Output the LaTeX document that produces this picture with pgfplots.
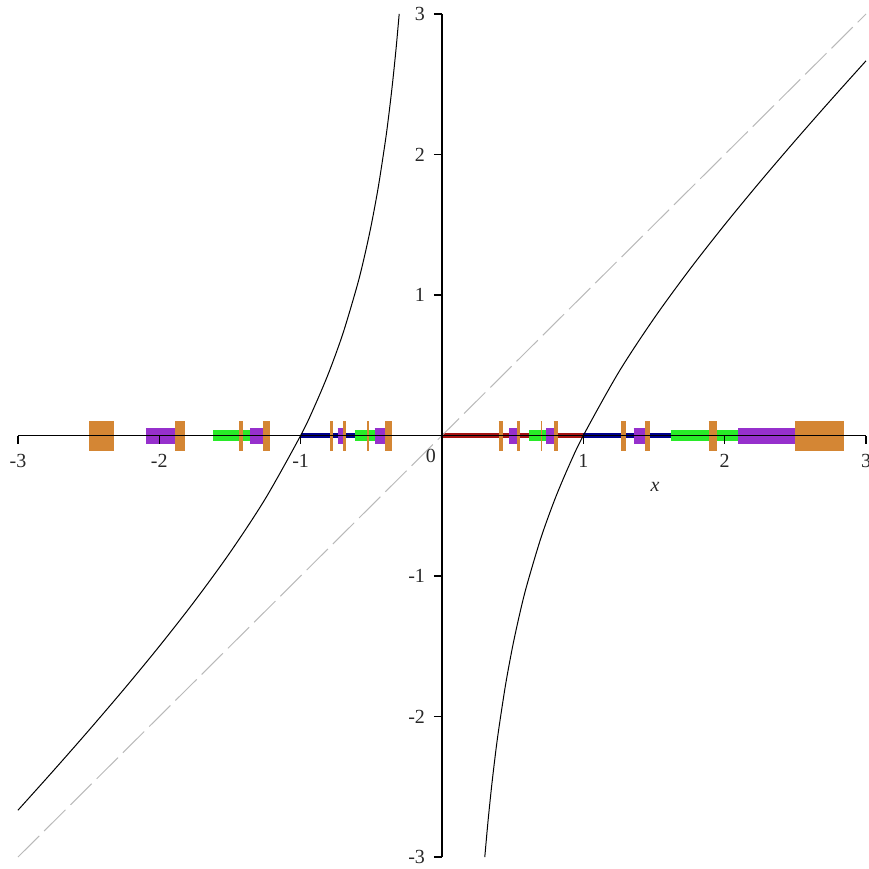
\documentclass[border=0pt]{standalone}
\usepackage{fontspec}
\setmainfont{Liberation Serif}
\usepackage{pgfplots}
\pgfplotsset{compat=1.18}

\definecolor{ordfour}{RGB}{212,134,52}
\definecolor{ordthree}{RGB}{150,48,204}
\definecolor{ordtwo}{RGB}{40,235,40}
\definecolor{ordone}{RGB}{0,0,140}
\definecolor{ordzero}{RGB}{165,20,20}
\definecolor{diaggray}{RGB}{185,185,185}
\definecolor{labelgray}{RGB}{40,40,40}

\begin{document}
\begin{tikzpicture}
\begin{axis}[
  scale only axis, width=424pt, height=421.5pt,
  xmin=-3, xmax=3, ymin=-3, ymax=3,
  axis lines=middle,
  axis line style={-, black, line width=0.6pt},
  axis on top,
  xtick={-3,-2,-1,1,2,3}, ytick={-3,-2,-1,1,2,3},
  tick align=outside, major tick length=4pt,
  tick style={black, line width=0.6pt},
  /pgf/number format/assume math mode=true,
  ticklabel style={font=\fontsize{10}{11}\selectfont, text=labelgray},
  xticklabel style={yshift=-2pt},
  yticklabel style={xshift=-1pt},
  clip=false, unbounded coords=jump,
]
% interval [0,1] and its successive preimages under x -> x - 1/x
\addplot[ordzero, line width=2.75pt, line cap=butt] coordinates {(0,0) (1,0)};
\addplot[ordone, line width=2.75pt, line cap=butt] coordinates {
  (-1,0) (-0.618034,0) (nan,nan)
  (1,0) (1.618034,0)};
\addplot[ordtwo, line width=5.5pt, line cap=butt] coordinates {
  (-1.618034,0) (-1.355674,0) (nan,nan)
  (-0.618034,0) (-0.477260,0) (nan,nan)
  (0.618034,0) (0.737641,0) (nan,nan)
  (1.618034,0) (2.095294,0)};
\addplot[ordthree, line width=8pt, line cap=butt] coordinates {
  (-2.095294,0) (-1.885920,0) (nan,nan)
  (-1.355674,0) (-1.266708,0) (nan,nan)
  (-0.737641,0) (-0.697026,0) (nan,nan)
  (-0.477260,0) (-0.400650,0) (nan,nan)
  (0.477260,0) (0.530246,0) (nan,nan)
  (0.737641,0) (0.789448,0) (nan,nan)
  (1.355674,0) (1.434667,0) (nan,nan)
  (2.095294,0) (2.495944,0)};
\addplot[ordfour, line width=15pt, line cap=butt] coordinates {
  (-2.495944,0) (-2.317432,0) (nan,nan)
  (-1.885920,0) (-1.817051,0) (nan,nan)
  (-1.434667,0) (-1.407504,0) (nan,nan)
  (-1.266708,0) (-1.220193,0) (nan,nan)
  (-0.789448,0) (-0.769426,0) (nan,nan)
  (-0.697026,0) (-0.680361,0) (nan,nan)
  (-0.530246,0) (-0.513344,0) (nan,nan)
  (-0.400650,0) (-0.351226,0) (nan,nan)
  (0.400650,0) (0.431512,0) (nan,nan)
  (0.530246,0) (0.550343,0) (nan,nan)
  (0.697026,0) (0.710478,0) (nan,nan)
  (0.789448,0) (0.819543,0) (nan,nan)
  (1.266708,0) (1.299672,0) (nan,nan)
  (1.434667,0) (1.469809,0) (nan,nan)
  (1.885920,0) (1.948011,0) (nan,nan)
  (2.495944,0) (2.847170,0)};

% diagonal y = x
\addplot[diaggray, line width=0.5pt, dash pattern=on 15pt off 3.5pt] coordinates {(-3,-3) (3,3)};

% the two branches of y = x - 1/x
\addplot[black, line width=0.5pt, smooth] coordinates {
  (-3,-2.6667) (-2.75,-2.3864) (-2.5,-2.1) (-2.25,-1.8056) (-2,-1.5)
  (-1.75,-1.1786) (-1.5,-0.8333) (-1.25,-0.45) (-1,0) (-0.9,0.2111)
  (-0.8,0.45) (-0.7,0.7286) (-0.6,1.0667) (-0.55,1.2682) (-0.5,1.5)
  (-0.45,1.7722) (-0.4,2.1) (-0.375,2.2917) (-0.35,2.5071)
  (-0.325,2.7519) (-0.3028,3.0)};
\addplot[black, line width=0.5pt, smooth] coordinates {
  (0.3028,-3.0) (0.325,-2.7519) (0.35,-2.5071) (0.375,-2.2917)
  (0.4,-2.1) (0.45,-1.7722) (0.5,-1.5) (0.55,-1.2682) (0.6,-1.0667)
  (0.7,-0.7286) (0.8,-0.45) (0.9,-0.2111) (1,0) (1.25,0.45)
  (1.5,0.8333) (1.75,1.1786) (2,1.5) (2.25,1.8056) (2.5,2.1)
  (2.75,2.3864) (3,2.6667)};

\node[font=\fontsize{10}{11}\selectfont, text=labelgray] at (axis cs:-0.078,-0.146) {0};
\node[font=\fontsize{10}{11}\selectfont\itshape, text=labelgray] at (axis cs:1.507,-0.367) {x};

\coordinate (BL) at (axis cs:-3.127,-3.085);
\coordinate (TR) at (axis cs:3.021,3.0996);
\end{axis}
\pgfresetboundingbox
\path[use as bounding box] (BL) rectangle (TR);
\end{tikzpicture}
\end{document}
